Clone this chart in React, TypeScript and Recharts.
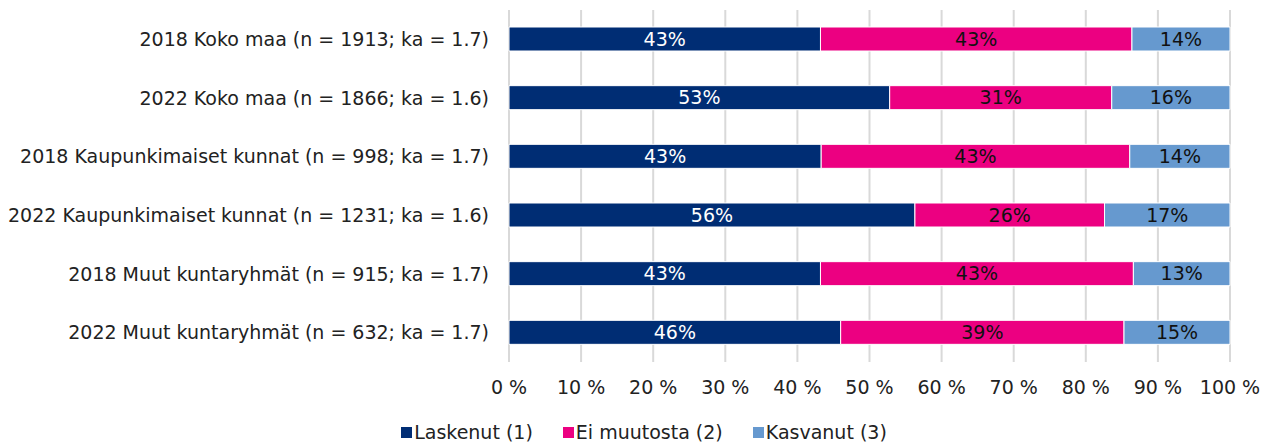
import React from 'react';
import { BarChart, Bar, XAxis, YAxis, CartesianGrid, Legend, LabelList } from 'recharts';

const categories = [
  '2018 Koko maa (n = 1913; ka = 1.7)',
  '2022 Koko maa (n = 1866; ka = 1.6)',
  '2018 Kaupunkimaiset kunnat (n = 998; ka = 1.7)',
  '2022 Kaupunkimaiset kunnat (n = 1231; ka = 1.6)',
  '2018 Muut kuntaryhmät (n = 915; ka = 1.7)',
  '2022 Muut kuntaryhmät (n = 632; ka = 1.7)',
];
const laskenut = [43.2, 52.8, 43.3, 56.3, 43.2, 46.0];
const eiMuutosta = [43.2, 30.8, 42.8, 26.3, 43.4, 39.3];
const kasvanut = [13.6, 16.4, 13.9, 17.4, 13.4, 14.7];
const xTicks = [0, 10, 20, 30, 40, 50, 60, 70, 80, 90, 100];

const seriesNames = ['Laskenut (1)', 'Ei muutosta (2)', 'Kasvanut (3)'];
const colors = ['#002D74', '#EC0081', '#6699CF'];

const data = categories.map((c, i) => ({
  name: c,
  a: laskenut[i],
  b: eiMuutosta[i],
  c: kasvanut[i],
}));

const FONT = '"DejaVu Sans", Verdana, sans-serif';
const FS = 19;

const fmt = (v: any) => `${Math.round(Number(v))}%`;

const LegendContent = () => (
  <div
    style={{
      display: 'flex',
      justifyContent: 'center',
      alignItems: 'center',
      fontFamily: FONT,
      fontSize: FS,
      color: '#222',
      lineHeight: '22px',
      height: 22,
      paddingLeft: 58,
    }}
  >
    {seriesNames.map((n, i) => (
      <div key={n} style={{ display: 'flex', alignItems: 'center', marginRight: i < 2 ? 30 : 0 }}>
        <span style={{ width: 11, height: 11, background: colors[i], display: 'inline-block', marginRight: 2 }} />
        <span>{n}</span>
      </div>
    ))}
  </div>
);

export default function App() {
  return (
    <div style={{ position: 'absolute', left: 0, top: 0, width: 1269, height: 443, background: '#fff', overflow: 'hidden' }}>
      <BarChart
        width={1269}
        height={443}
        data={data}
        layout="vertical"
        margin={{ top: 10, right: 39, bottom: 0, left: 0 }}
        barCategoryGap={18}
      >
        <CartesianGrid horizontal={false} vertical={true} stroke="#d9d9d9" strokeWidth={2} />
        <XAxis
          type="number"
          domain={[0, 100]}
          ticks={xTicks}
          tickFormatter={(v: number) => `${v} %`}
          axisLine={false}
          tickLine={false}
          tickSize={0}
          tickMargin={19}
          height={59}
          interval={0}
          tick={{ fill: '#222', fontSize: FS, fontFamily: FONT }}
        />
        <YAxis
          type="category"
          dataKey="name"
          width={509}
          axisLine={false}
          tickLine={false}
          tickSize={0}
          tickMargin={20}
          interval={0}
          tick={{ fill: '#222', fontSize: FS, fontFamily: FONT }}
        />
        <Legend verticalAlign="bottom" height={22} content={<LegendContent />} />
        <Bar dataKey="a" name={seriesNames[0]} stackId="s" fill={colors[0]} stroke="#fff" strokeWidth={1} barSize={24} isAnimationActive={false}>
          <LabelList dataKey="a" position="center" formatter={fmt} fill="#fff" style={{ fontSize: FS, fontFamily: FONT }} />
        </Bar>
        <Bar dataKey="b" name={seriesNames[1]} stackId="s" fill={colors[1]} stroke="#fff" strokeWidth={1} barSize={24} isAnimationActive={false}>
          <LabelList dataKey="b" position="center" formatter={fmt} fill="#111" style={{ fontSize: FS, fontFamily: FONT }} />
        </Bar>
        <Bar dataKey="c" name={seriesNames[2]} stackId="s" fill={colors[2]} stroke="#fff" strokeWidth={1} barSize={24} isAnimationActive={false}>
          <LabelList dataKey="c" position="center" formatter={fmt} fill="#111" style={{ fontSize: FS, fontFamily: FONT }} />
        </Bar>
      </BarChart>
    </div>
  );
}
